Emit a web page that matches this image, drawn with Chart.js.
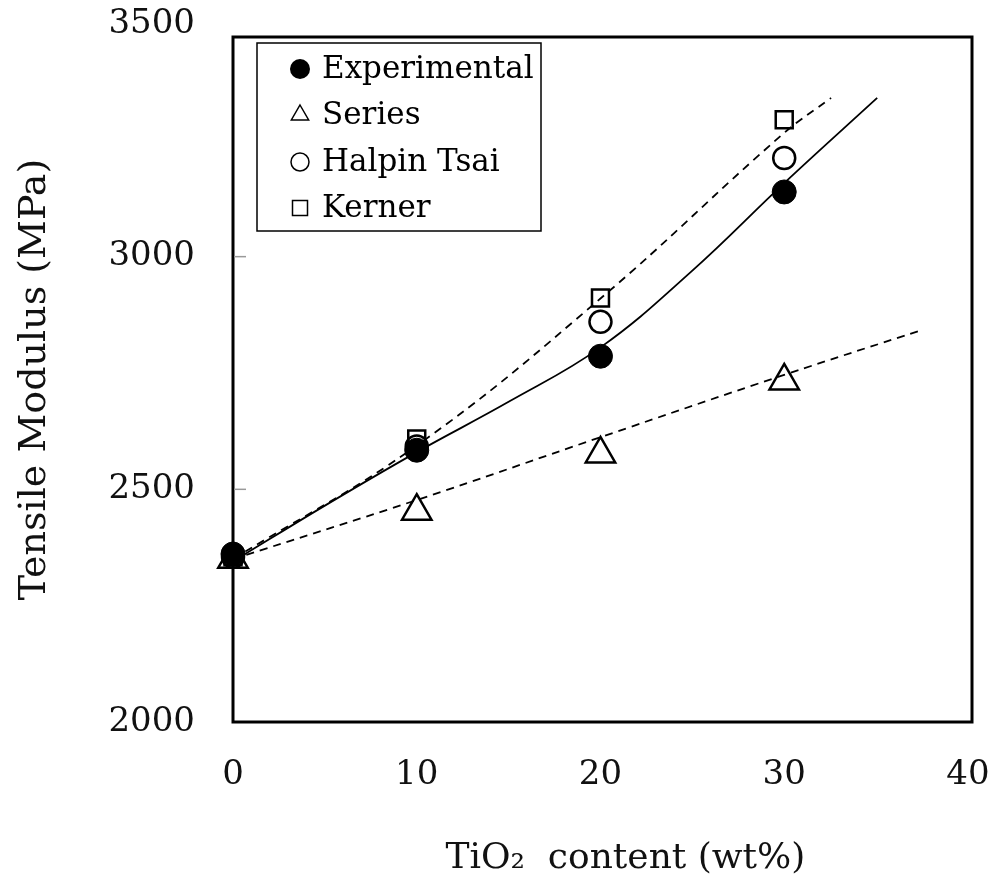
<!DOCTYPE html>
<html lang="en">
<head>
<meta charset="UTF-8">
<title>Tensile modulus vs TiO2 content</title>
<script src="https://cdn.jsdelivr.net/npm/chart.js"></script>
<style>
  html, body { margin: 0; padding: 0; background: #fff; }
  #wrap { width: 998px; height: 888px; }
</style>
</head>
<body>
<div id="wrap"><canvas id="modChart" width="998" height="888"></canvas></div>
<script>
// measured points (wt% TiO2 -> MPa)
const contentX = [0, 10, 20, 30];
const experimental = [2361, 2584, 2786, 3139];
const seriesModel = [2350, 2453, 2576, 2733];
const halpinTsai = [2355, 2592, 2860, 3212];
const kerner = [2355, 2608, 2911, 3294];

// trend lines
const expFitX = [0, 5, 10, 15, 20, 25, 30, 35.06];
const expFit = [2345, 2465, 2580, 2688, 2805, 2970, 3158, 3341];
const seriesFitX = [0, 10, 20, 30, 37.55];
const seriesFit = [2350, 2477, 2612, 2746, 2843];
const kernerFitX = [0, 10, 20, 30, 32.55];
const kernerFit = [2350, 2594, 2910, 3266, 3341];

const xTicks = [0, 10, 20, 30, 40];
const yTicks = [2000, 2500, 3000, 3500];
const legendLabels = ['Experimental', 'Series', 'Halpin Tsai', 'Kerner'];

const FONT = 'DejaVu Serif';

function pts(xs, ys) {
    return xs.map((x, i) => ({ x: x, y: ys[i] }));
}

// frame + little inner ticks on the y axis
const framePlugin = {
    id: 'frame',
    beforeDatasetsDraw(chart) {
        const { ctx, chartArea: a, scales } = chart;
        ctx.save();
        ctx.strokeStyle = '#000';
        ctx.lineWidth = 3;
        ctx.strokeRect(a.left, a.top, a.right - a.left, a.bottom - a.top);
        ctx.strokeStyle = '#999';
        ctx.lineWidth = 1.5;
        yTicks.forEach(v => {
            const py = scales.y.getPixelForValue(v);
            if (py > a.top + 3 && py < a.bottom - 3) {
                ctx.beginPath();
                ctx.moveTo(a.left + 1, py);
                ctx.lineTo(a.left + 13, py);
                ctx.stroke();
            }
        });
        ctx.restore();
    }
};

function drawMarker(ctx, style, x, y, r, filled) {
    ctx.beginPath();
    if (style === 'circle') {
        ctx.arc(x, y, r, 0, Math.PI * 2);
    } else if (style === 'triangle') {
        ctx.moveTo(x, y - r);
        ctx.lineTo(x + r * 0.866, y + r * 0.5);
        ctx.lineTo(x - r * 0.866, y + r * 0.5);
        ctx.closePath();
    } else {
        ctx.rect(x - r, y - r, 2 * r, 2 * r);
    }
    if (filled) {
        ctx.fill();
    } else {
        ctx.stroke();
    }
}

// boxed legend inside the plot
const boxLegend = {
    id: 'boxLegend',
    afterDatasetsDraw(chart) {
        const ctx = chart.ctx;
        ctx.save();
        ctx.fillStyle = '#fff';
        ctx.fillRect(257, 43, 284, 188);
        ctx.strokeStyle = '#000';
        ctx.lineWidth = 1.5;
        ctx.strokeRect(257, 43, 284, 188);
        const rows = [69, 115, 162, 208];
        const styles = [['circle', 10, true], ['triangle', 10, false], ['circle', 9, false], ['rect', 7.5, false]];
        ctx.fillStyle = '#000';
        ctx.font = '31px "' + FONT + '"';
        ctx.textBaseline = 'middle';
        legendLabels.forEach((lab, i) => {
            ctx.lineWidth = 1.5;
            drawMarker(ctx, styles[i][0], 300, rows[i], styles[i][1], styles[i][2]);
            ctx.fillText(lab, 322, rows[i] + 1);
        });
        ctx.restore();
    }
};

const markerBase = { showLine: false, clip: false, pointBorderColor: '#000', pointHoverRadius: 12 };
const lineBase = { showLine: true, clip: false, pointRadius: 0, pointHoverRadius: 0, borderColor: '#000',
    borderWidth: 1.8, tension: 0.4, order: 10 };

const ctx = document.getElementById('modChart').getContext('2d');
const modChart = new Chart(ctx, {
    type: 'scatter',
    data: {
        datasets: [
            Object.assign({}, markerBase, { label: legendLabels[0], data: pts(contentX, experimental),
                pointStyle: 'circle', pointRadius: 12, pointBackgroundColor: '#000', pointBorderWidth: 1, order: 0 }),
            Object.assign({}, markerBase, { label: legendLabels[2], data: pts(contentX, halpinTsai),
                pointStyle: 'circle', pointRadius: 11, pointBackgroundColor: 'rgba(255,255,255,0)', pointBorderWidth: 2.5, order: 1 }),
            Object.assign({}, markerBase, { label: legendLabels[3], data: pts(contentX, kerner),
                pointStyle: 'rect', pointRadius: 12, pointBackgroundColor: 'rgba(255,255,255,0)', pointBorderWidth: 2.5, order: 2 }),
            Object.assign({}, markerBase, { label: legendLabels[1], data: pts(contentX, seriesModel),
                pointStyle: 'triangle', pointRadius: 17, pointBackgroundColor: 'rgba(255,255,255,0)', pointBorderWidth: 2.5, order: 3 }),
            Object.assign({}, lineBase, { label: 'exp fit', data: pts(expFitX, expFit) }),
            Object.assign({}, lineBase, { label: 'series fit', data: pts(seriesFitX, seriesFit), borderDash: [8, 6] }),
            Object.assign({}, lineBase, { label: 'kerner fit', data: pts(kernerFitX, kernerFit), borderDash: [8, 6] })
        ]
    },
    options: {
        responsive: false,
        animation: false,
        devicePixelRatio: 1,
        layout: { padding: { left: 0, right: 26, top: 37, bottom: 0 } },
        plugins: {
            legend: { display: false },
            tooltip: { enabled: false }
        },
        scales: {
            x: {
                type: 'linear',
                min: 0,
                max: 40.22,
                afterBuildTicks: (s) => { s.ticks = xTicks.map(v => ({ value: v })); },
                afterFit: (s) => { s.height = 166; s.paddingLeft = 0; s.paddingRight = 0; },
                grid: { display: false, drawTicks: false, tickLength: 0 },
                border: { display: false },
                ticks: { autoSkip: false, maxRotation: 0, padding: 33, color: '#111',
                    callback: (v) => String(v),
                    font: { family: FONT, size: 34 } },
                title: { display: true, text: '    TiO\u2082  content (wt%)', color: '#111',
                    padding: { top: 8, bottom: 8 }, font: { family: FONT, size: 36 } }
            },
            y: {
                type: 'linear',
                min: 2000,
                max: 3472,
                afterBuildTicks: (s) => { s.ticks = yTicks.map(v => ({ value: v })); },
                afterFit: (s) => { s.width = 233; s.paddingTop = 0; s.paddingBottom = 0; },
                grid: { display: false, drawTicks: false, tickLength: 0 },
                border: { display: false },
                ticks: { autoSkip: false, padding: 38, color: '#111',
                    callback: (v) => String(v),
                    font: { family: FONT, size: 34 } },
                title: { display: true, text: 'Tensile Modulus (MPa)', color: '#111',
                    padding: { top: 12, bottom: 12 }, font: { family: FONT, size: 38 } }
            }
        }
    },
    plugins: [framePlugin, boxLegend]
});
</script>
</body>
</html>
